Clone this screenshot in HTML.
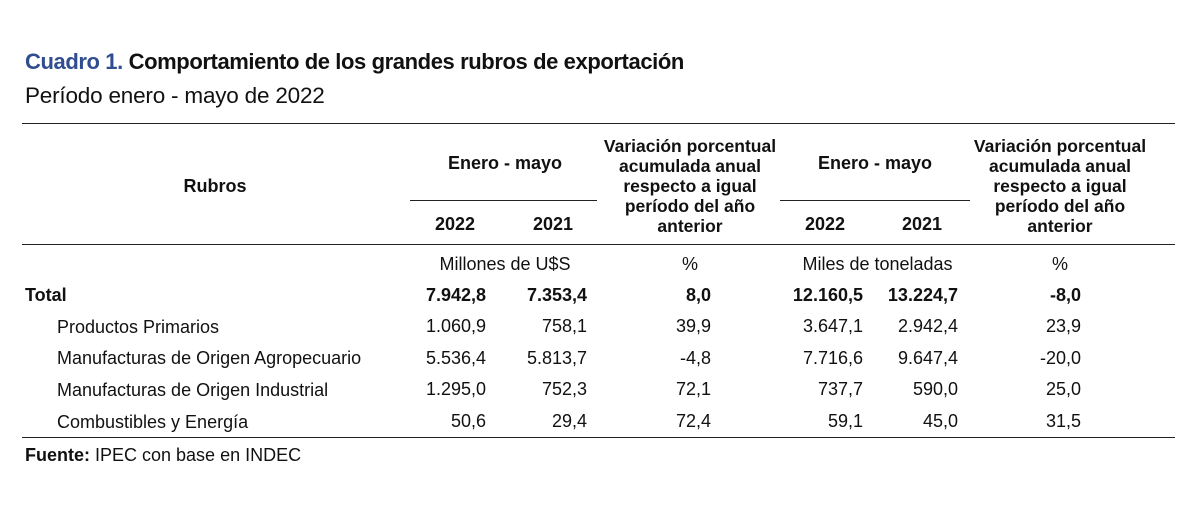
<!DOCTYPE html>
<html><head><meta charset="utf-8"><style>
body{margin:0;width:1200px;height:531px;background:#fff;position:relative;font-family:"Liberation Sans",sans-serif;color:#111;overflow:hidden}
.t{position:absolute;white-space:nowrap;font-size:18px;line-height:20px}
.b{font-weight:bold}
.r{text-align:right}
.c{text-align:center}
.l{position:absolute;height:1px;background:#222}
</style></head><body>
<div class="t b" style="left:25px;top:49px;font-size:22px;line-height:26px;letter-spacing:-0.4px"><span style="color:#2f4d8f">Cuadro 1.</span> Comportamiento de los grandes rubros de exportación</div>
<div class="t" style="left:25px;top:83px;font-size:22.5px;line-height:26px;letter-spacing:-0.2px">Período enero - mayo de 2022</div>
<div class="l" style="left:22px;top:123px;width:1153px"></div>
<div class="l" style="left:410px;top:200px;width:187px"></div>
<div class="l" style="left:780px;top:200px;width:190px"></div>
<div class="l" style="left:22px;top:244px;width:1153px"></div>
<div class="l" style="left:22px;top:437px;width:1153px"></div>

<div class="t b c" style="left:160px;width:110px;top:176px">Rubros</div>
<div class="t b c" style="left:430px;width:150px;top:153px">Enero - mayo</div>
<div class="t b c" style="left:800px;width:150px;top:153px">Enero - mayo</div>
<div class="t b c" style="left:415px;width:80px;top:214px">2022</div>
<div class="t b c" style="left:513px;width:80px;top:214px">2021</div>
<div class="t b c" style="left:785px;width:80px;top:214px">2022</div>
<div class="t b c" style="left:882px;width:80px;top:214px">2021</div>
<div class="t b c" style="left:590px;width:200px;top:136px;line-height:20px;font-size:17.5px">Variación porcentual<br>acumulada anual<br>respecto a igual<br>período del año<br>anterior</div>
<div class="t b c" style="left:960px;width:200px;top:136px;line-height:20px;font-size:17.5px">Variación porcentual<br>acumulada anual<br>respecto a igual<br>período del año<br>anterior</div>

<div class="t c" style="left:420px;width:170px;top:254px">Millones de U$S</div>
<div class="t c" style="left:670px;width:40px;top:254px">%</div>
<div class="t c" style="left:790px;width:175px;top:254px">Miles de toneladas</div>
<div class="t c" style="left:1040px;width:40px;top:254px">%</div>

<div class="t b" style="left:25px;top:285px">Total</div>
<div class="t" style="left:57px;top:317px">Productos Primarios</div>
<div class="t" style="left:57px;top:348px">Manufacturas de Origen Agropecuario</div>
<div class="t" style="left:57px;top:380px">Manufacturas de Origen Industrial</div>
<div class="t" style="left:57px;top:412px">Combustibles y Energía</div>

<div class="t r b" style="left:360px;width:126px;top:285px">7.942,8</div>
<div class="t r b" style="left:480px;width:107px;top:285px">7.353,4</div>
<div class="t r b" style="left:600px;width:111px;top:285px">8,0</div>
<div class="t r b" style="left:730px;width:133px;top:285px">12.160,5</div>
<div class="t r b" style="left:850px;width:108px;top:285px">13.224,7</div>
<div class="t r b" style="left:980px;width:101px;top:285px">-8,0</div>

<div class="t r" style="left:360px;width:126px;top:311px;line-height:31.7px">1.060,9<br>5.536,4<br>1.295,0<br>50,6</div>
<div class="t r" style="left:480px;width:107px;top:311px;line-height:31.7px">758,1<br>5.813,7<br>752,3<br>29,4</div>
<div class="t r" style="left:600px;width:111px;top:311px;line-height:31.7px">39,9<br>-4,8<br>72,1<br>72,4</div>
<div class="t r" style="left:730px;width:133px;top:311px;line-height:31.7px">3.647,1<br>7.716,6<br>737,7<br>59,1</div>
<div class="t r" style="left:850px;width:108px;top:311px;line-height:31.7px">2.942,4<br>9.647,4<br>590,0<br>45,0</div>
<div class="t r" style="left:980px;width:101px;top:311px;line-height:31.7px">23,9<br>-20,0<br>25,0<br>31,5</div>

<div class="t" style="left:25px;top:445px"><b>Fuente:</b> IPEC con base en INDEC</div>
</body></html>
